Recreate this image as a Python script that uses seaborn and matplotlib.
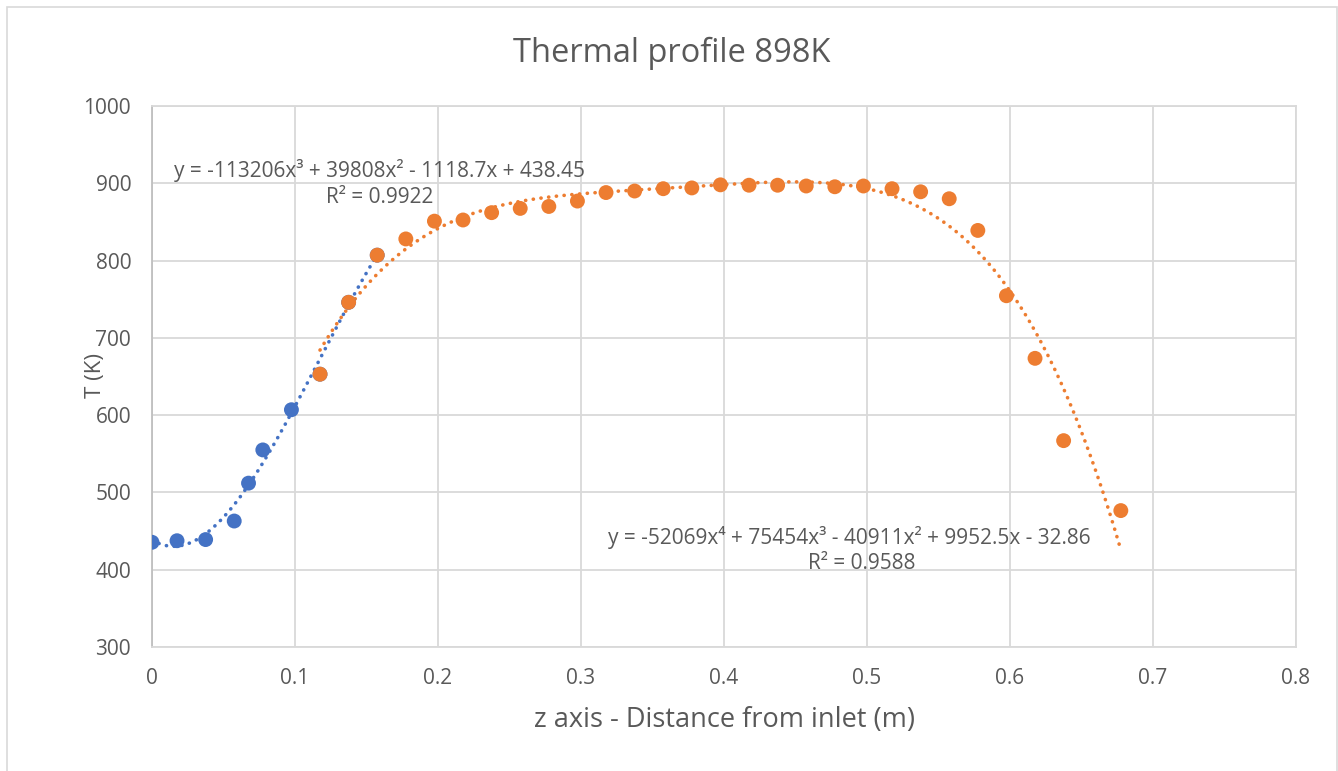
import numpy as np
import pandas as pd
import matplotlib
matplotlib.use("Agg")
import matplotlib.pyplot as plt
import seaborn as sns
from matplotlib.patches import Rectangle

# ---- data ----
blue_x = [0.0, 0.0175, 0.0375, 0.0575, 0.0675, 0.0775, 0.0975, 0.1175, 0.1375, 0.1575]
blue_T = [435.5, 437.5, 439, 463, 512, 555, 607, 653, 746, 807]

orange_x = [0.1175, 0.1375, 0.1575, 0.1775, 0.1975, 0.2175, 0.2375, 0.2575, 0.2775,
            0.2975, 0.3175, 0.3375, 0.3575, 0.3775, 0.3975, 0.4175, 0.4375, 0.4575,
            0.4775, 0.4975, 0.5175, 0.5375, 0.5575, 0.5775, 0.5975, 0.6175, 0.6375,
            0.6775]
orange_T = [653, 746, 807, 828, 851, 852.5, 862, 867.5, 870,
            877, 888, 890, 893, 894, 898, 897.5, 897.5, 896.5,
            895.5, 896.5, 893, 889, 880, 839, 754.5, 673.5, 567,
            476.5]

# trendline coefficients (highest power first), as displayed
blue_coef = [-113206, 39808, -1118.7, 438.45]
orange_coef = [-52069, 75454, -40911, 9952.5, -32.86]

blue_eq = "y = -113206x³ + 39808x² - 1118.7x + 438.45"
blue_r2 = "R² = 0.9922"
orange_eq = "y = -52069x⁴ + 75454x³ - 40911x² + 9952.5x - 32.86"
orange_r2 = "R² = 0.9588"

title = "Thermal profile 898K"
xlabel = "z axis - Distance from inlet (m)"
ylabel = "T (K)"
xticks = [0, 0.1, 0.2, 0.3, 0.4, 0.5, 0.6, 0.7, 0.8]
xticklabels = ["0", "0.1", "0.2", "0.3", "0.4", "0.5", "0.6", "0.7", "0.8"]
yticks = [300, 400, 500, 600, 700, 800, 900, 1000]

BLUE = "#4472C4"
ORANGE = "#ED7D31"
GRID = "#D9D9D9"
TXT = "#595959"

sns.set_theme(style="white")
plt.rcParams['font.family'] = ['Open Sans', 'DejaVu Sans']

fig = plt.figure(figsize=(13.38, 7.71), dpi=100)
ax = fig.add_axes([152 / 1338, 1 - 647 / 771, (1296 - 152) / 1338, (647 - 106) / 771])

# chart border
fig.patches.append(Rectangle((7 / 1338, -0.01), 1 - 8 / 1338, 1 - 7 / 771 + 0.01,
                             transform=fig.transFigure, fill=False,
                             edgecolor="#D9D9D9", lw=1.2))

# trendlines
bx = np.linspace(blue_x[0], blue_x[-1], 200)
ox = np.linspace(orange_x[0], orange_x[-1], 400)
dotted = (0, (0.05, 2.1))
df_bt = pd.DataFrame({"x": bx, "T": np.polyval(blue_coef, bx)})
df_ot = pd.DataFrame({"x": ox, "T": np.polyval(orange_coef, ox)})
sns.lineplot(data=df_bt, x="x", y="T", ax=ax, color=BLUE, lw=2.6,
             linestyle=dotted, zorder=3)
sns.lineplot(data=df_ot, x="x", y="T", ax=ax, color=ORANGE, lw=2.6,
             linestyle=dotted, zorder=3)
for ln in ax.lines:
    ln.set_dash_capstyle("round")
    ln.set_solid_capstyle("round")

# points
df_b = pd.DataFrame({"x": blue_x, "T": blue_T})
df_o = pd.DataFrame({"x": orange_x, "T": orange_T})
sns.scatterplot(data=df_b, x="x", y="T", ax=ax, color=BLUE, s=115,
                edgecolor="none", zorder=4)
sns.scatterplot(data=df_o, x="x", y="T", ax=ax, color=ORANGE, s=115,
                edgecolor="none", zorder=5)

ax.set_xlim(0, 0.8)
ax.set_ylim(300, 1000)
ax.set_xticks(xticks)
ax.set_xticklabels(xticklabels)
ax.set_yticks(yticks)
ax.grid(True, color=GRID, lw=1.3)
ax.set_axisbelow(True)
for side in ["top", "right", "bottom"]:
    ax.spines[side].set_color(GRID)
    ax.spines[side].set_linewidth(1.3)
ax.spines["left"].set_color("#BFBFBF")
ax.spines["left"].set_linewidth(1.3)
ax.tick_params(axis="both", length=0, labelsize=15, labelcolor=TXT)
ax.tick_params(axis="x", pad=15)
ax.tick_params(axis="y", pad=15)

ax.set_xlabel(xlabel, fontsize=19.5, color=TXT)
ax.set_ylabel(ylabel, fontsize=16, color=TXT)
ax.xaxis.set_label_coords((725 - 152) / 1144, (647 - 720) / 541)
ax.yaxis.set_label_coords((95 - 152) / 1144, (647 - 375) / 541)
for lab in (ax.xaxis.label, ax.yaxis.label):
    lab.set_verticalalignment("center")
fig.text(672 / 1338, 1 - 53 / 771, title, fontsize=23.5, color=TXT,
         ha="center", va="center")

fs_eq = 15
fam = ['Open Sans', 'DejaVu Sans']
ax.text(0.159, 917, blue_eq, fontsize=fs_eq, color=TXT, ha="center", va="center",
        family=fam, zorder=6)
ax.text(0.159, 882, blue_r2, fontsize=fs_eq, color=TXT, ha="center", va="center",
        family=fam, zorder=6)
ax.text(0.4873, 442, orange_eq, fontsize=fs_eq, color=TXT, ha="center", va="center",
        family=fam, zorder=6)
ax.text(0.4965, 408.5, orange_r2, fontsize=fs_eq, color=TXT, ha="center", va="center",
        family=fam, zorder=6)

fig.savefig("out.png", dpi=100)
